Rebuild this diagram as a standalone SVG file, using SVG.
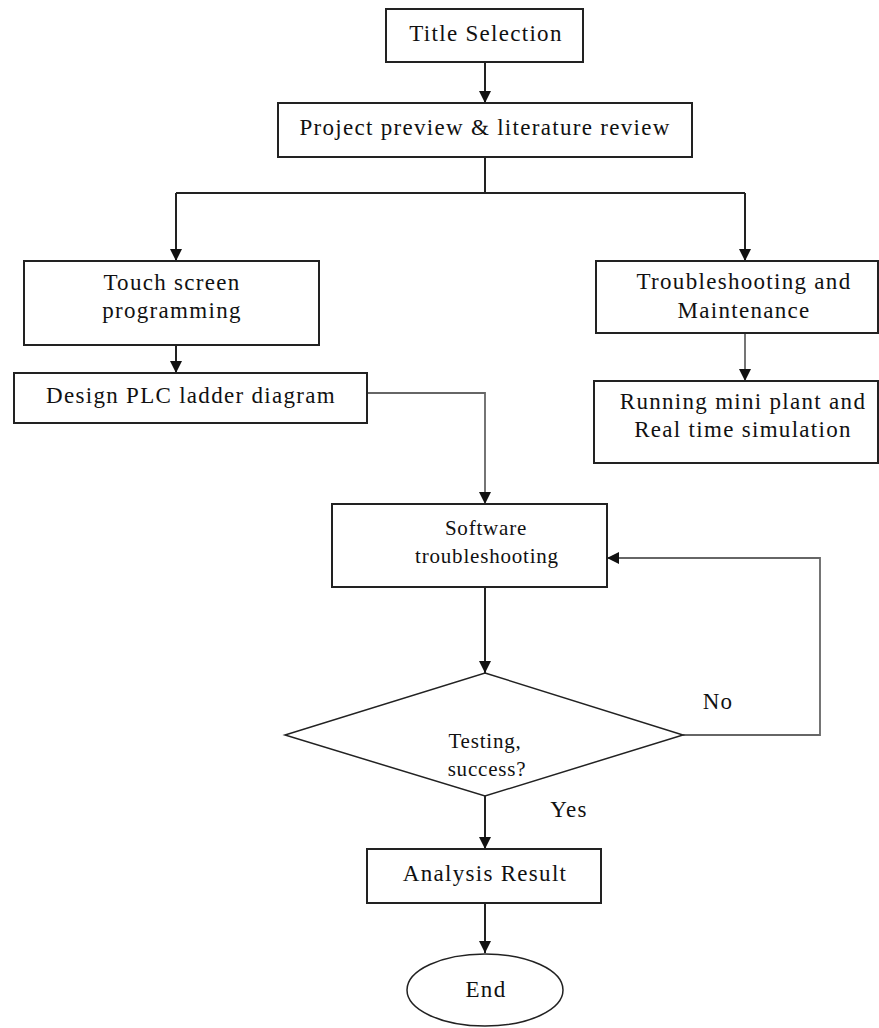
<svg xmlns="http://www.w3.org/2000/svg" width="879" height="1028" viewBox="0 0 879 1028">
<style>
.box{fill:#fff;stroke:#222;stroke-width:2}
.t{font-family:"Liberation Serif","Times New Roman",serif;font-size:23px;letter-spacing:1.3px;fill:#111;text-anchor:middle;dominant-baseline:middle}
.s{font-size:21px;letter-spacing:0.8px}
.c{fill:none;stroke:#222;stroke-width:2}
.g{fill:none;stroke:#666;stroke-width:1.8}
</style>
<defs>
<marker id="ah2" viewBox="0 0 10 10" refX="10" refY="5" markerWidth="12" markerHeight="12" orient="auto" markerUnits="userSpaceOnUse">
<path d="M0,0 L10,5 L0,10 z" fill="#111"/>
</marker>
</defs>
<rect width="879" height="1028" fill="#fff"/>
<g id="connectors">
<path class="c" d="M485,62 V103" marker-end="url(#ah2)"/>
<path class="c" d="M485,157 V193 M176,193 H745"/>
<path class="c" d="M176,193 V261" marker-end="url(#ah2)"/>
<path class="c" d="M745,193 V261" marker-end="url(#ah2)"/>
<path class="c" d="M176,345 V373" marker-end="url(#ah2)"/>
<path class="g" d="M745,333 V381" marker-end="url(#ah2)"/>
<path class="g" d="M367,393 H485 V504" marker-end="url(#ah2)"/>
<path class="c" d="M485,587 V673" marker-end="url(#ah2)"/>
<path class="g" d="M683,735 H820 V558 H607" marker-end="url(#ah2)"/>
<path class="c" d="M485,795 V849" marker-end="url(#ah2)"/>
<path class="c" d="M485,903 V953" marker-end="url(#ah2)"/>
<text class="t" x="718" y="704">No</text>
<text class="t" x="569" y="812">Yes</text>
</g>
<g id="title"><rect class="box" x="386" y="9" width="197" height="53"/><text class="t" x="486" y="36">Title Selection</text></g>
<g id="preview"><rect class="box" x="278" y="103" width="414" height="54"/><text class="t" x="485" y="130">Project preview &amp; literature review</text></g>
<g id="touch"><rect class="box" x="24" y="261" width="295" height="84"/><text class="t" x="172" y="285">Touch screen</text><text class="t" x="172" y="313">programming</text></g>
<g id="plc"><rect class="box" x="14" y="373" width="353" height="50"/><text class="t" x="191" y="398">Design PLC ladder diagram</text></g>
<g id="trouble"><rect class="box" x="596" y="261" width="282" height="72"/><text class="t" x="744" y="284">Troubleshooting and</text><text class="t" x="744" y="313">Maintenance</text></g>
<g id="running"><rect class="box" x="594" y="381" width="284" height="82"/><text class="t" x="743" y="404">Running mini plant and</text><text class="t" x="743" y="432">Real time simulation</text></g>
<g id="software"><rect class="box" x="332" y="504" width="275" height="83"/><text class="t s" x="486" y="530">Software</text><text class="t s" x="487" y="558">troubleshooting</text></g>
<g id="testing"><polygon class="box" points="485,673 683,735 485,796 285,735" style="stroke-width:1.5"/><text class="t s" x="485" y="743">Testing,</text><text class="t s" x="487" y="771">success?</text></g>
<g id="analysis"><rect class="box" x="367" y="849" width="234" height="54"/><text class="t" x="485" y="876">Analysis Result</text></g>
<g id="end"><ellipse class="box" cx="485" cy="990" rx="78" ry="36" style="stroke-width:1.5"/><text class="t" x="486" y="992">End</text></g>
</svg>
